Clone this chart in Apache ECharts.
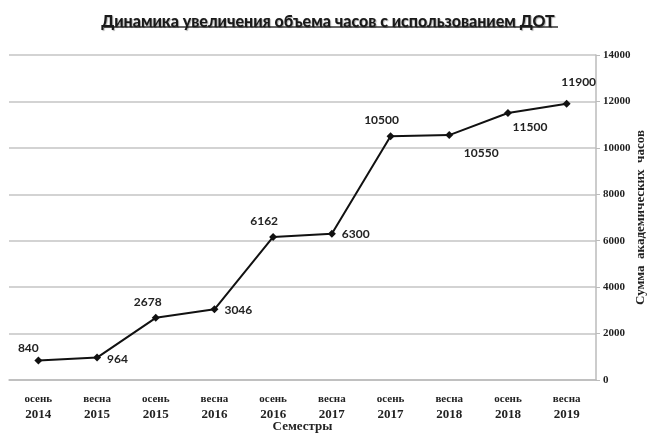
<!DOCTYPE html>
<html><head><meta charset="utf-8">
<script src="https://cdn.jsdelivr.net/npm/echarts@6/dist/echarts.min.js"></script>
<style>html,body{margin:0;padding:0;background:#fff}#c{width:656px;height:433px}</style>
</head><body><div id="c"></div>
<script>
const seasons = ["осень","весна","осень","весна","осень","весна","осень","весна","осень","весна"];
const years = ["2014","2015","2015","2016","2016","2017","2017","2018","2018","2019"];
const hours = [840, 964, 2678, 3046, 6162, 6300, 10500, 10550, 11500, 11900];
const yTicks = [0, 2000, 4000, 6000, 8000, 10000, 12000, 14000];

const categories = seasons.map((s, i) => s + "\n" + years[i]);
// label placement per point (style only)
const labelPlace = [
  {position: 'top', offset: [-10, 4]},
  {position: 'right', offset: [0, 2]},
  {position: 'top', offset: [-8, 0]},
  {position: 'right', offset: [0, 1]},
  {position: 'top', offset: [-9, 0]},
  {position: 'right', offset: [0, 0]},
  {position: 'top', offset: [-9, 0]},
  {position: 'bottom', offset: [32, 2]},
  {position: 'bottom', offset: [22, -2]},
  {position: 'top', offset: [12, -6]}
];

const chart = echarts.init(document.getElementById('c'), null, {renderer: 'canvas'});
chart.setOption({
  animation: false,
  backgroundColor: '#fff',
  title: {
    text: 'Динамика увеличения объема часов с использованием ДОТ',
    left: 'center', top: 9,
    textStyle: {fontFamily: 'Lato', fontWeight: 900, fontSize: 16, color: '#1a1a1a',
      textShadowColor: 'rgba(0,0,0,0.3)', textShadowBlur: 1, textShadowOffsetX: 1, textShadowOffsetY: 1}
  },
  graphic: [{type: 'line', shape: {x1: 104, y1: 27, x2: 558, y2: 27},
    style: {stroke: '#333', lineWidth: 1.5}}],
  grid: {left: 9, right: 60, top: 55, bottom: 53, outerBoundsMode: 'none', containLabel: false},
  xAxis: {
    type: 'category', data: categories, boundaryGap: true,
    name: 'Семестры', nameLocation: 'middle', nameGap: 40, nameMoveOverlap: false,
    nameTextStyle: {fontFamily: 'Liberation Serif', fontWeight: 'bold', fontSize: 13, color: '#222'},
    axisLine: {lineStyle: {color: '#bbb', width: 1.5}},
    axisTick: {show: false},
    axisLabel: {
      interval: 0, margin: 12,
      formatter: v => { const p = v.split("\n"); return '{a|' + p[0] + '}\n{b|' + p[1] + '}'; },
      rich: {
        a: {fontFamily: 'Liberation Serif', fontWeight: 'bold', fontSize: 11, color: '#222', lineHeight: 15},
        b: {fontFamily: 'Liberation Serif', fontWeight: 'bold', fontSize: 13, color: '#222', lineHeight: 16}
      }
    }
  },
  yAxis: {
    type: 'value', position: 'right', min: yTicks[0], max: yTicks[yTicks.length - 1], interval: 2000,
    name: 'Сумма  академических  часов', nameLocation: 'middle', nameGap: 38, nameRotate: 90,
    nameMoveOverlap: false,
    nameTextStyle: {fontFamily: 'Liberation Serif', fontWeight: 'bold', fontSize: 13, color: '#222'},
    axisLine: {show: true, lineStyle: {color: '#bbb', width: 1.5}},
    axisTick: {show: true, length: 4, lineStyle: {color: '#bbb'}},
    splitLine: {show: true, lineStyle: {color: '#c4c4c4', width: 1.5}},
    axisLabel: {margin: 7, fontFamily: 'Liberation Serif', fontWeight: 'bold', fontSize: 11, color: '#222',
      formatter: v => String(v)}
  },
  series: [{
    type: 'line',
    data: hours.map((v, i) => ({value: v, label: labelPlace[i]})),
    symbol: 'diamond', symbolSize: 8,
    lineStyle: {color: '#111', width: 2},
    itemStyle: {color: '#111'},
    label: {show: true, fontFamily: 'Lato', fontWeight: 'bold', fontSize: 12, color: '#222', distance: 6}
  }]
});
</script></body></html>
